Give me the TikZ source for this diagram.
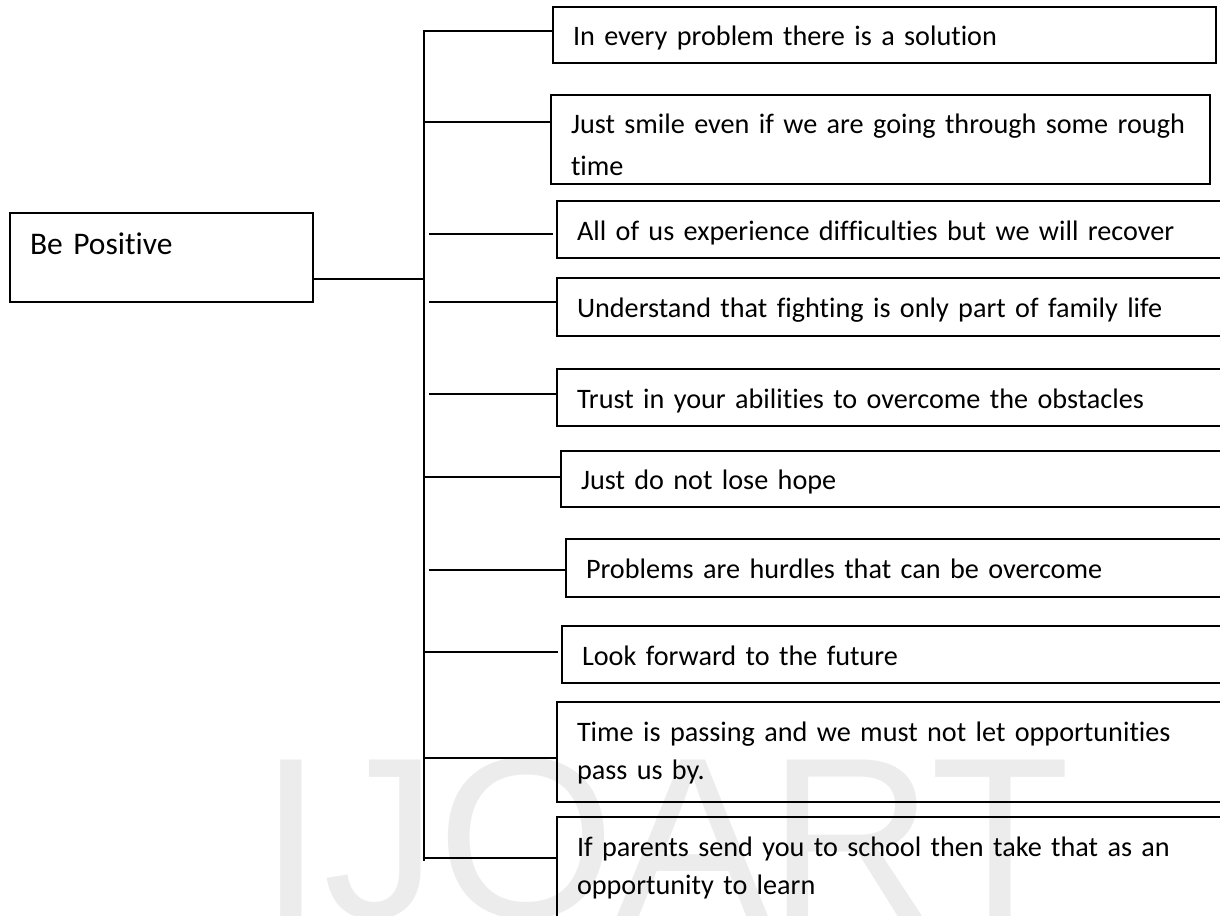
\documentclass[tikz,border=0pt]{standalone}
\usepackage{fontspec}
\setmainfont{Carlito}[Ligatures={NoCommon}]
\newfontfamily\markfont{Liberation Sans}
\usetikzlibrary{calc}
\tikzset{
	box/.style={draw=black, anchor=north west, outer sep=0pt, inner xsep=20pt, inner ysep=0pt, align=left, text height=21pt, text depth=0pt},
	leaf/.style n args={3}{
		box, text width=#1, minimum height=#2, text depth=#3, font=\fontsize{28.2}{42}\selectfont
	}
}

\begin{document}
\begin{tikzpicture}[x=1pt, y=-1pt, line width=1.6pt]

	\path[use as bounding box, clip] (0,0) rectangle (1220,915);

	% watermark
	\node[anchor=base west, inner sep=0pt, text=gray!15, font=\markfont\fontsize{229}{229}\selectfont] (mark) at (259,917) {IJOART};

	\node[box, text width=263pt, minimum height=89pt, text depth=28pt, font=\fontsize{31.5}{40}\selectfont] (positive) at (10,213) {Be Positive};

	\node[leaf={623pt}{56pt}{0pt}] (solution) at (553,7) {In every problem there is a solution};
	\node[leaf={619pt}{89pt}{34pt}] (smile) at (551,95) {Just smile even if we are going through some rough\\time};
	\node[leaf={643pt}{57pt}{0pt}] (recover) at (557,201) {All of us experience difficulties but we will recover};
	\node[leaf={643pt}{58pt}{0pt}] (fighting) at (557,278) {Understand that fighting is only part of family life};
	\node[leaf={643pt}{57pt}{0pt}] (trust) at (557,369) {Trust in your abilities to overcome the obstacles};
	\node[leaf={639pt}{56pt}{0pt}] (hope) at (561,451) {Just do not lose hope};
	\node[leaf={634pt}{58pt}{0pt}] (hurdles) at (566,539) {Problems are hurdles that can be overcome};
	\node[leaf={638pt}{57pt}{0pt}] (future) at (562,626) {Look forward to the future};
	\node[leaf={643pt}{100pt}{43pt}, font=\fontsize{28.2}{38.5}\selectfont] (passing) at (557,702) {Time is passing and we must not let opportunities\\pass us by.};
	\node[leaf={643pt}{102pt}{45pt}, font=\fontsize{28.2}{38.5}\selectfont] (school) at (557,817) {If parents send you to school then take that as an\\opportunity to learn};

	\coordinate (hub) at (424,279);
	\coordinate (top) at (424,31);
	\coordinate (bottom) at (424,861);

	\coordinate (s2) at (424,122);
	\coordinate (s3) at (429,234);
	\coordinate (s4) at (429,302);
	\coordinate (s5) at (429,394);
	\coordinate (s6) at (424,477);
	\coordinate (s7) at (429,570);
	\coordinate (s8) at (425,652);
	\coordinate (s9) at (424,758);
	\coordinate (s10) at (424,858);

	% spine
	\draw (positive.east |- hub) -- (hub);
	\draw (bottom) -- (top) -- (top -| solution.west);

	% branches
	\draw (s2) -- (s2 -| smile.west);
	\draw (s3) -- ($(s3 -| recover.west)+(-4,0)$);
	\draw (s4) -- (s4 -| fighting.west);
	\draw (s5) -- (s5 -| trust.west);
	\draw (s6) -- (s6 -| hope.west);
	\draw (s7) -- (s7 -| hurdles.west);
	\draw (s8) -- ($(s8 -| future.west)+(-4,0)$);
	\draw (s9) -- (s9 -| passing.west);
	\draw (s10) -- (s10 -| school.west);

\end{tikzpicture}
\end{document}
